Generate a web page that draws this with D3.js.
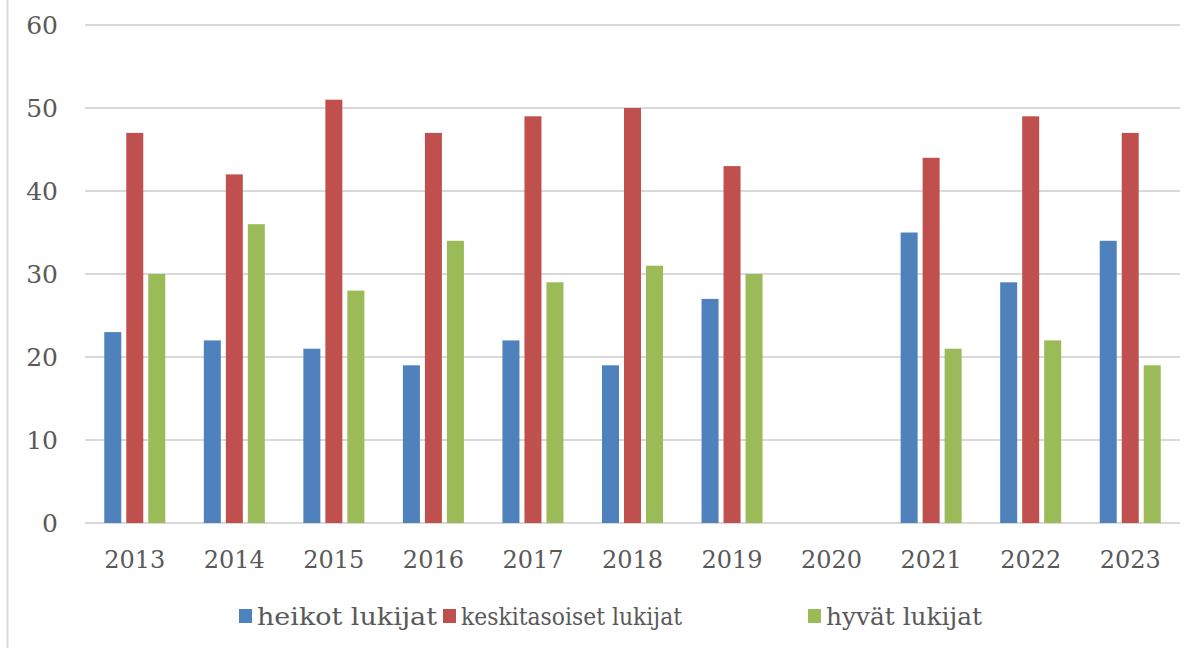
<!DOCTYPE html>
<html>
<head>
<meta charset="utf-8">
<script src="https://cdn.jsdelivr.net/npm/d3@7"></script>
<style>
body { margin: 0; background: #fff; }
svg text { font-family: "DejaVu Serif", serif; fill: #595959; }
</style>
</head>
<body>
<script>
var years = ["2013", "2014", "2015", "2016", "2017", "2018", "2019", "2020", "2021", "2022", "2023"];
var seriesNames = ["heikot lukijat", "keskitasoiset lukijat", "hyvät lukijat"];
var heikot = [23, 22, 21, 19, 22, 19, 27, null, 35, 29, 34];
var keskitaso = [47, 42, 51, 47, 49, 50, 43, null, 44, 49, 47];
var hyvat = [30, 36, 28, 34, 29, 31, 30, null, 21, 22, 19];
var colors = ["#4f81bd", "#c0504d", "#9bbb59"];
var yTicks = [0, 10, 20, 30, 40, 50, 60];

var W = 1194, H = 648;
var m = { left: 85, right: 14, top: 25, bottom: 125 };

var svg = d3.select("body").append("svg")
    .attr("width", W)
    .attr("height", H);

// outer frame edge on the left
svg.append("line")
    .attr("x1", 7.5).attr("x2", 7.5)
    .attr("y1", 0).attr("y2", H)
    .attr("stroke", "#d9d9d9").attr("stroke-width", 2);

var x = d3.scaleBand().domain(years).range([m.left, W - m.right]);
var y = d3.scaleLinear().domain([0, 60]).range([H - m.bottom, m.top]);

var series = [heikot, keskitaso, hyvat];
var barW = 17, gap = 5;
var groupW = 3 * barW + 2 * gap;
var inner = d3.scaleBand().domain([0, 1, 2]).range([0, groupW]).paddingInner(gap / (barW + gap));

// gridlines
svg.append("g").selectAll("line")
    .data(yTicks)
    .join("line")
    .attr("x1", m.left).attr("x2", W - m.right)
    .attr("y1", function (d) { return y(d); })
    .attr("y2", function (d) { return y(d); })
    .attr("stroke", "#d9d9d9").attr("stroke-width", 2);

// y tick labels
svg.append("g").selectAll("text")
    .data(yTicks)
    .join("text")
    .attr("x", 58)
    .attr("y", function (d) { return y(d); })
    .attr("dy", "0.35em")
    .attr("text-anchor", "end")
    .attr("font-size", 25)
    .text(function (d) { return d; });

// bars
series.forEach(function (vals, si) {
    svg.append("g").selectAll("rect")
        .data(years.map(function (yr, i) { return { yr: yr, v: vals[i] }; })
            .filter(function (d) { return d.v != null; }))
        .join("rect")
        .attr("x", function (d) { return x(d.yr) + x.bandwidth() / 2 - groupW / 2 + inner(si); })
        .attr("width", inner.bandwidth())
        .attr("y", function (d) { return y(d.v); })
        .attr("height", function (d) { return y(0) - y(d.v); })
        .attr("fill", colors[si]);
});

// x labels
svg.append("g").selectAll("text")
    .data(years)
    .join("text")
    .attr("x", function (d) { return x(d) + x.bandwidth() / 2; })
    .attr("y", 560)
    .attr("dy", "0.35em")
    .attr("text-anchor", "middle")
    .attr("font-size", 24)
    .text(function (d) { return d; });

// legend (label widths)
var legX = [239, 443, 808];
var legW = [180, 221, 156];
var leg = svg.append("g").selectAll("g")
    .data(seriesNames)
    .join("g")
    .attr("transform", function (d, i) { return "translate(" + legX[i] + ",609)"; });
leg.append("rect")
    .attr("width", 13).attr("height", 14)
    .attr("fill", function (d, i) { return colors[i]; });
leg.append("text")
    .attr("x", 18).attr("y", 7)
    .attr("dy", "0.35em")
    .attr("font-size", 25)
    .attr("textLength", function (d, i) { return legW[i]; })
    .attr("lengthAdjust", "spacingAndGlyphs")
    .text(function (d) { return d; });
</script>
</body>
</html>
